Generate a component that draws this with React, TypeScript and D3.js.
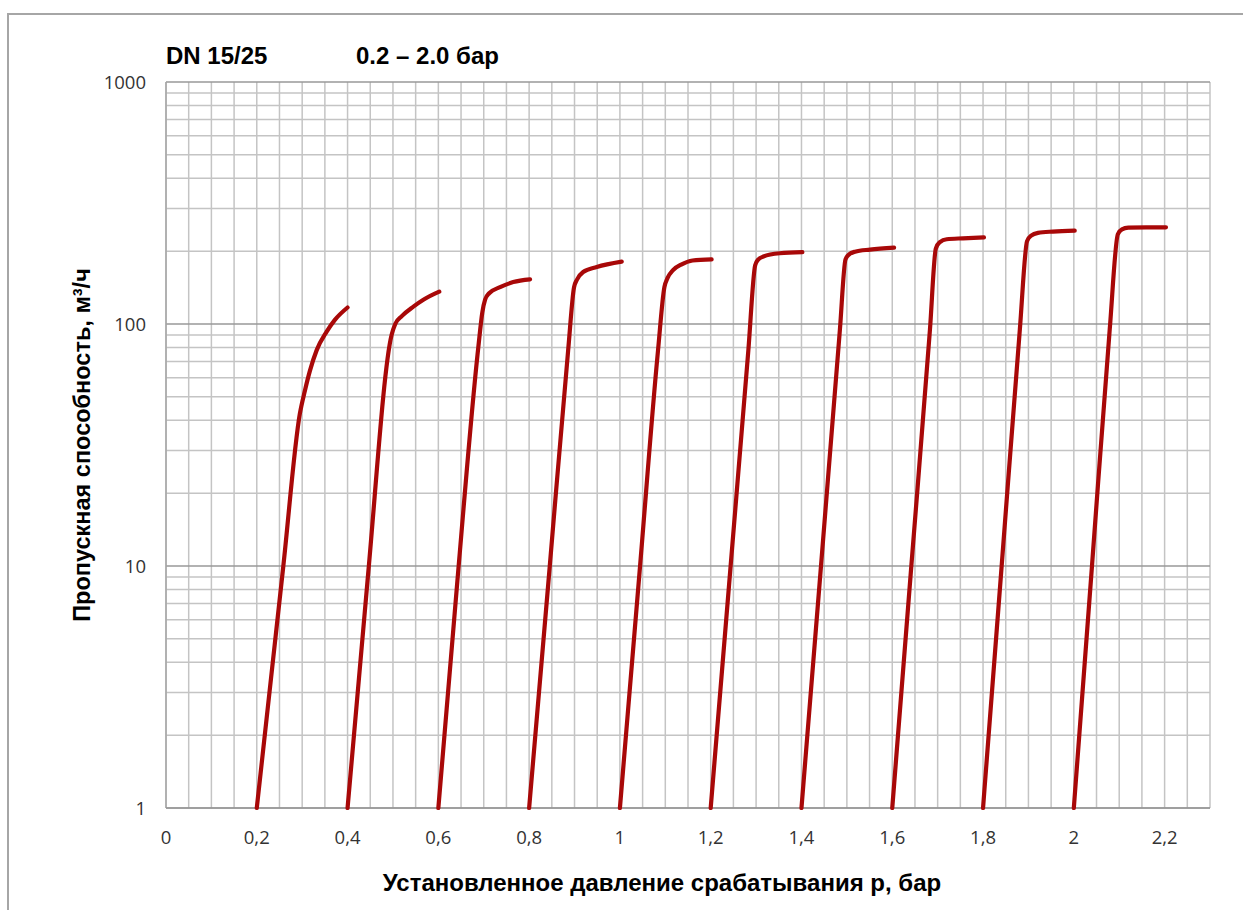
import React from 'react';
import * as d3 from 'd3';

// Data (x = set pressure p, bar; y = flow, m³/h)
const setPressures = [0.2, 0.4, 0.6, 0.8, 1.0, 1.2, 1.4, 1.6, 1.8, 2.0];

const curve02: [number, number][] = [[0.2, 1], [0.2585, 10], [0.295, 42.7], [0.306, 53], [0.317, 64], [0.332, 78], [0.354, 93], [0.372, 104], [0.4, 117]];
const curve04: [number, number][] = [[0.4, 1], [0.444, 8.7], [0.497, 90], [0.505, 100], [0.52, 108], [0.545, 118], [0.567, 126], [0.602, 136]];
const curve06: [number, number][] = [[0.6, 1], [0.642, 8.7], [0.688, 80], [0.697, 112], [0.703, 126], [0.712, 134], [0.736, 142], [0.765, 149], [0.802, 153]];
const curve08: [number, number][] = [[0.8, 1], [0.8455, 10], [0.886, 78], [0.899, 142], [0.905, 152], [0.919, 164], [0.949, 172], [1.004, 181]];
const curve10: [number, number][] = [[1.0, 1], [1.0444, 10], [1.084, 78], [1.098, 142], [1.105, 155], [1.117, 167], [1.135, 176], [1.16, 183], [1.202, 185]];
const curve12: [number, number][] = [[1.2, 1], [1.2439, 10], [1.283, 78], [1.298, 175], [1.304, 184], [1.316, 190], [1.352, 196], [1.402, 198]];
const curve14: [number, number][] = [[1.4, 1], [1.443, 10], [1.4846, 94.5], [1.497, 185], [1.505, 194], [1.518, 199], [1.551, 203], [1.604, 207]];
const curve16: [number, number][] = [[1.6, 1], [1.642, 10], [1.683, 94.5], [1.696, 205], [1.705, 218], [1.72, 224], [1.756, 226], [1.802, 228]];
const curve18: [number, number][] = [[1.8, 1], [1.841, 10], [1.881, 94.5], [1.897, 220], [1.906, 232], [1.921, 238], [1.954, 241], [2.002, 243]];
const curve20: [number, number][] = [[2.0, 1], [2.04, 10], [2.079, 94.5], [2.097, 235], [2.106, 246], [2.12, 250], [2.16, 251], [2.203, 251]];

const curves = [curve02, curve04, curve06, curve08, curve10, curve12, curve14, curve16, curve18, curve20];

const xTickValues = [0, 0.2, 0.4, 0.6, 0.8, 1, 1.2, 1.4, 1.6, 1.8, 2, 2.2];
const xTickLabels = ['0', '0,2', '0,4', '0,6', '0,8', '1', '1,2', '1,4', '1,6', '1,8', '2', '2,2'];
const yTickValues = [1, 10, 100, 1000];
const yTickLabels = ['1', '10', '100', '1000'];

const W = 1243;
const H = 910;
const left = 166, right = 1210, top = 82, bottom = 808;

export default function App() {
  const x = d3.scaleLinear().domain([0, 2.3]).range([left, right]);
  const y = d3.scaleLog().domain([1, 1000]).range([bottom, top]);

  const line = d3.line<[number, number]>()
    .x(d => x(d[0]))
    .y(d => y(d[1]))
    .curve(d3.curveMonotoneX);

  // minor vertical grid every 0.05 bar
  const xGrid = d3.range(0, 47).map(i => i * 0.05);
  const yGrid = y.ticks();

  const tickFont = '"Open Sans", "DejaVu Sans", sans-serif';
  const boldFont = '"Liberation Sans", Arial, sans-serif';

  return (
    <svg width={W} height={H} style={{ position: 'absolute', left: 0, top: 0, display: 'block', background: '#fff' }}>
      {/* outer frame, runs past the page edges */}
      <rect x={8} y={14} width={1400} height={1000} fill="none" stroke="#a6a6a6" strokeWidth={2} />

      <text x={166} y={64} fontFamily={boldFont} fontWeight="bold" fontSize={24} fill="#000">DN 15/25</text>
      <text x={356} y={64} fontFamily={boldFont} fontWeight="bold" fontSize={24} fill="#000">0.2 – 2.0 бар</text>

      {/* grid */}
      <g>
        {xGrid.map((v, i) => (
          <line key={'vx' + i} x1={x(v)} x2={x(v)} y1={top} y2={bottom} stroke="#c4c4c4" strokeWidth={1.5} />
        ))}
        {yGrid.map((v, i) => {
          const major = Math.abs(Math.log10(v) - Math.round(Math.log10(v))) < 1e-9;
          return (
            <line key={'hy' + i} x1={left} x2={right} y1={y(v)} y2={y(v)}
              stroke={major ? '#999' : '#c4c4c4'} strokeWidth={1.5} />
          );
        })}
        <line x1={left} x2={left} y1={top} y2={bottom} stroke="#a6a6a6" strokeWidth={1.5} />
        <line x1={left} x2={right} y1={bottom} y2={bottom} stroke="#999" strokeWidth={1.6} />
      </g>

      {/* tick labels */}
      <g fontFamily={tickFont} fontSize={18.5} fill="#333">
        {xTickValues.map((v, i) => (
          <text key={'tx' + i} x={x(v)} y={844} textAnchor="middle">{xTickLabels[i]}</text>
        ))}
        {yTickValues.map((v, i) => (
          <text key={'ty' + i} x={146} y={y(v)} dy="0.36em" textAnchor="end">{yTickLabels[i]}</text>
        ))}
      </g>

      {/* flow curves, one per set pressure */}
      <g fill="none" stroke="#a80808" strokeWidth={4.2} strokeLinecap="round" strokeLinejoin="round">
        {curves.map((c, i) => (
          <path key={'c' + setPressures[i]} d={line(c) || ''} />
        ))}
      </g>

      {/* axis titles */}
      <text x={662} y={891} textAnchor="middle" fontFamily={boldFont} fontWeight="bold" fontSize={24} fill="#000">
        Установленное давление срабатывания р, бар
      </text>
      <text transform={`translate(90, ${(top + bottom) / 2}) rotate(-90)`} textAnchor="middle"
        fontFamily={boldFont} fontWeight="bold" fontSize={23.5} fill="#000">
        Пропускная способность, м³/ч
      </text>
    </svg>
  );
}
